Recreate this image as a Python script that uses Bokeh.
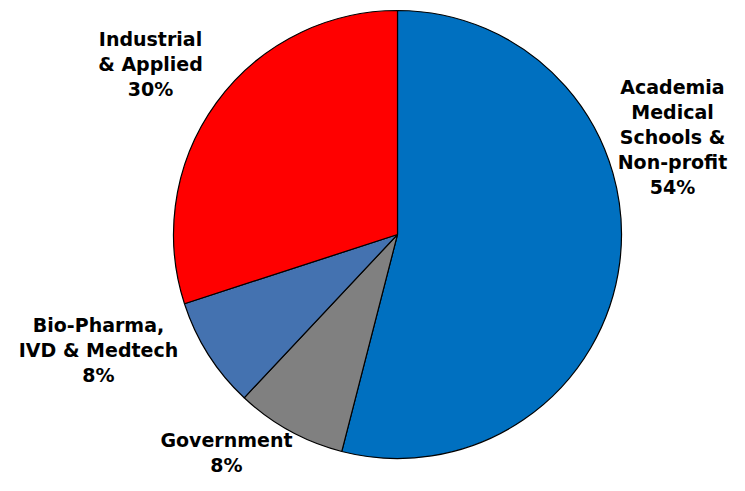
import math
from bokeh.plotting import figure
from bokeh.models import Range1d, ColumnDataSource
from bokeh.core.properties import value
from bokeh.embed import file_html
from bokeh.resources import INLINE

# data
categories = ["Academia\nMedical\nSchools &\nNon-profit", "Government", "Bio-Pharma,\nIVD & Medtech", "Industrial\n& Applied"]
shares = [54, 8, 8, 30]
colors = ["#0070C0", "#808080", "#4472B0", "#FF0000"]

# layout (pixel-like coordinates, y measured up)
W, H = 729, 475
cx, cy, r = 397, H - 234, 224
label_px = [672, 226, 98, 150]
label_py_top = [75, 428, 313, 27]

total = float(sum(shares))
starts, ends = [], []
a = math.pi / 2
for s in shares:
    starts.append(a)
    a -= s / total * 2 * math.pi
    ends.append(a)

p = figure(width=W, height=H, output_backend="svg", toolbar_location=None,
           x_range=Range1d(0, W), y_range=Range1d(0, H),
           min_border=0)
p.axis.visible = False
p.grid.visible = False
p.outline_line_color = None
p.background_fill_color = "white"

src = ColumnDataSource(dict(x=[cx] * len(shares), y=[cy] * len(shares),
                            start=starts, end=ends, color=colors))
p.wedge(x="x", y="y", radius=r, start_angle="start", end_angle="end",
        direction="clock", fill_color="color", line_color="black",
        line_width=1.2, source=src)

texts = [f"{c}\n{s}%" for c, s in zip(categories, shares)]
tsrc = ColumnDataSource(dict(x=label_px, y=[H - v for v in label_py_top], t=texts))
p.text(x="x", y="y", text="t", source=tsrc, text_align="center",
       text_baseline="top", text_font=value("DejaVu Sans"),
       text_font_style="bold", text_font_size="19px", text_line_height=1.14,
       text_color="black")

open("out.html", "w").write(file_html(p, INLINE))
